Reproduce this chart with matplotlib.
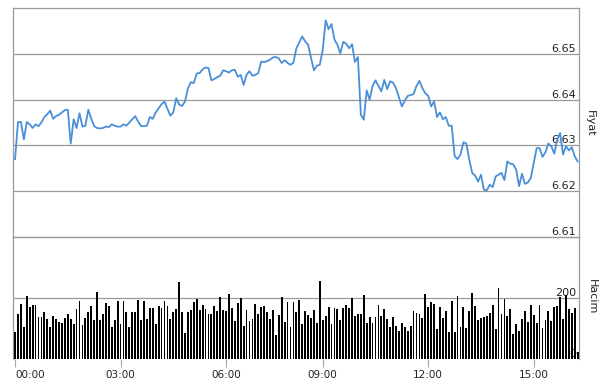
import numpy as np
import matplotlib
matplotlib.use("Agg")
import matplotlib.pyplot as plt
import matplotlib.transforms as mtransforms

price = [
    6.6270, 6.6351, 6.6351, 6.6313, 6.6351, 6.6346, 6.6338, 6.6346, 6.6342, 6.6350,
    6.6362, 6.6368, 6.6376, 6.6358, 6.6364, 6.6367, 6.6372, 6.6377, 6.6378, 6.6304,
    6.6357, 6.6338, 6.6370, 6.6341, 6.6343, 6.6378, 6.6358, 6.6342, 6.6338, 6.6337,
    6.6338, 6.6341, 6.6340, 6.6346, 6.6343, 6.6341, 6.6341, 6.6346, 6.6343, 6.6350,
    6.6357, 6.6364, 6.6352, 6.6342, 6.6342, 6.6343, 6.6362, 6.6358, 6.6372, 6.6381,
    6.6390, 6.6396, 6.6380, 6.6365, 6.6372, 6.6403, 6.6389, 6.6386, 6.6396, 6.6425,
    6.6438, 6.6436, 6.6457, 6.6458, 6.6466, 6.6470, 6.6469, 6.6442, 6.6445, 6.6449,
    6.6452, 6.6464, 6.6462, 6.6459, 6.6464, 6.6465, 6.6450, 6.6454, 6.6432, 6.6454,
    6.6462, 6.6452, 6.6454, 6.6458, 6.6483, 6.6482, 6.6484, 6.6487, 6.6492, 6.6493,
    6.6490, 6.6480, 6.6486, 6.6480, 6.6476, 6.6481, 6.6512, 6.6525, 6.6538, 6.6527,
    6.6520, 6.6491, 6.6464, 6.6474, 6.6476, 6.6509, 6.6573, 6.6554, 6.6565, 6.6531,
    6.6520, 6.6501, 6.6526, 6.6522, 6.6512, 6.6521, 6.6482, 6.6493, 6.6367, 6.6356,
    6.6420, 6.6400, 6.6430, 6.6442, 6.6430, 6.6418, 6.6443, 6.6423, 6.6440, 6.6437,
    6.6425, 6.6405, 6.6385, 6.6398, 6.6408, 6.6410, 6.6412, 6.6430, 6.6441, 6.6425,
    6.6414, 6.6408, 6.6385, 6.6396, 6.6362, 6.6372, 6.6357, 6.6362, 6.6343, 6.6343,
    6.6277, 6.6270, 6.6280, 6.6307, 6.6304, 6.6269, 6.6240, 6.6234, 6.6221, 6.6236,
    6.6203, 6.6202, 6.6214, 6.6209, 6.6232, 6.6236, 6.6240, 6.6224, 6.6265, 6.6260,
    6.6259, 6.6247, 6.6211, 6.6238, 6.6216, 6.6219, 6.6229, 6.6261, 6.6294, 6.6294,
    6.6275, 6.6285, 6.6304, 6.6298, 6.6282, 6.6312, 6.6327, 6.6280, 6.6298, 6.6289,
    6.6296, 6.6276, 6.6265,
]

volume = [
    90, 146, 179, 106, 205, 172, 177, 176, 139, 137, 155, 130, 104, 140, 130, 122, 119, 135, 146, 130,
    114, 163, 190, 110, 133, 153, 173, 127, 219, 127, 146, 182, 173, 104, 127, 190, 114, 190, 153, 104,
    153, 153, 192, 127, 190, 130, 166, 166, 114, 173,
    168, 189, 175, 130, 153, 163, 251, 153, 84, 153, 160, 186, 196, 160, 176, 163, 146, 146, 173, 156,
    202, 160, 156, 212, 166, 123, 182, 199, 107, 160, 123, 130, 179, 146, 169, 173, 153, 130, 160, 78,
    143, 202, 120, 186, 104, 186, 153, 192,
    114, 156, 143, 133, 160, 117, 255, 127, 140, 169, 114, 166, 163, 127, 166, 176, 166, 199, 140, 146,
    146, 209, 117, 137, 117, 137, 176, 140, 163, 130, 106, 137, 107, 91, 117, 106, 91, 107, 156, 150,
    146, 133, 212, 169, 186, 181, 97, 169,
    133, 156, 90, 189, 90, 205, 104, 169, 101, 156, 215, 173, 127, 133, 137, 140, 150, 176, 97, 232,
    146, 196, 140, 163, 81, 114, 91, 130, 156, 120, 176, 143, 117, 176, 101, 127, 156, 123, 169, 173,
    202, 130, 209, 163, 150, 166, 22,
]

tick_labels = ["00:00", "03:00", "06:00", "09:00", "12:00", "15:00"]
tick_bar_index = [0, 36, 72, 105, 141, 177]

price_ticks = [6.61, 6.62, 6.63, 6.64, 6.65]
volume_ticks = [0, 200]

W, H = 604, 390
fig = plt.figure(figsize=(W / 100, H / 100), dpi=100)
fig.patch.set_facecolor("white")

left = 13 / W
width = 566 / W
ax_p = fig.add_axes([left, 1 - 237 / H, width, 229 / H])
ax_v = fig.add_axes([left, 1 - 359 / H, width, 122 / H], sharex=ax_p)

grid_c = "#9a9a9a"
text_c = "#222222"
x = np.arange(len(price))

# price panel
ax_p.plot(x, price, color="#4a8fd8", lw=1.3, zorder=5, solid_joinstyle="round")
ax_p.set_ylim(6.61, 6.66)
ax_p.set_xlim(-0.7, len(price) - 0.55)
for v in price_ticks[1:]:
    ax_p.axhline(v, color=grid_c, lw=0.9, zorder=1)
tr_p = mtransforms.blended_transform_factory(ax_p.transAxes, ax_p.transData)
for v in price_ticks:
    ax_p.text(0.9945, v, f"{v:.2f}", transform=tr_p, ha="right", va="bottom",
              fontsize=8, color=text_c, zorder=3)
ax_p.set_yticks([])
ax_p.tick_params(axis="x", which="both", bottom=False, labelbottom=False)
for s in ax_p.spines.values():
    s.set_color(grid_c)
    s.set_linewidth(0.9)

# volume panel
ax_v.patch.set_visible(False)
ax_v.bar(x, volume, width=0.62, color="#000000", linewidth=0, zorder=4,
         antialiased=False)
ax_v.set_ylim(0, 400)
for v in volume_ticks[1:]:
    ax_v.axhline(v, color=grid_c, lw=0.9, zorder=1)
tr_v = mtransforms.blended_transform_factory(ax_v.transAxes, ax_v.transData)
for v in volume_ticks:
    ax_v.text(0.9945, v, f"{v}", transform=tr_v, ha="right", va="bottom",
              fontsize=8, color=text_c, zorder=3)
ax_v.set_yticks([])
ax_v.spines["bottom"].set_visible(False)
for k in ["left", "right", "top"]:
    ax_v.spines[k].set_color(grid_c)
    ax_v.spines[k].set_linewidth(0.9)

ax_v.set_xticks(tick_bar_index)
ax_v.set_xticklabels(tick_labels)
ax_v.tick_params(axis="x", length=6, width=0.8, color="#9aa8b8", pad=2,
                 labelsize=7.5, labelcolor=text_c)
ax_v.get_xticklabels()[0].set_horizontalalignment("left")

fig.text(590 / W, 1 - 123 / H, "Fiyat", rotation=270, ha="center", va="center",
         fontsize=8, color=text_c)
fig.text(592 / W, 1 - 297 / H, "Hacim", rotation=270, ha="center", va="center",
         fontsize=8, color=text_c)

fig.savefig("out.png", dpi=100, facecolor="white")
